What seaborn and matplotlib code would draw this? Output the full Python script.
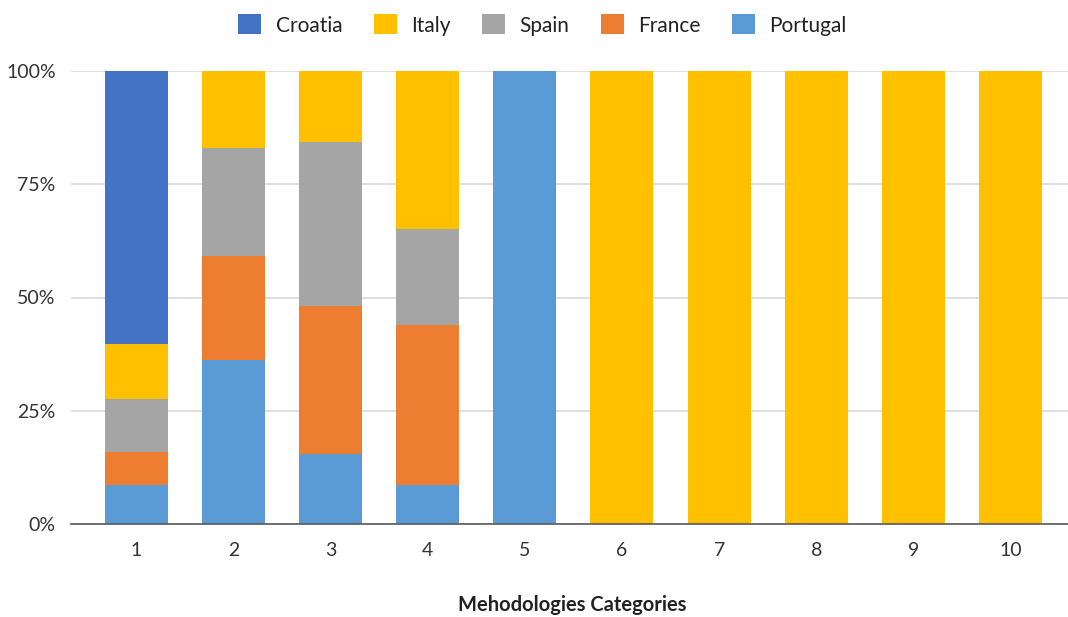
import matplotlib
matplotlib.use("Agg")
import matplotlib.pyplot as plt
from matplotlib.patches import Patch
from matplotlib.ticker import PercentFormatter
import numpy as np
import pandas as pd
import seaborn as sns

# Share of each country per methodology category (percent)
categories = ["1", "2", "3", "4", "5", "6", "7", "8", "9", "10"]
portugal = [8.5, 36.3, 15.4, 8.5, 100, 0, 0, 0, 0, 0]
france = [7.3, 22.9, 32.7, 35.4, 0, 0, 0, 0, 0, 0]
spain = [11.9, 23.9, 36.3, 21.2, 0, 0, 0, 0, 0, 0]
italy = [12.0, 16.9, 15.6, 34.9, 0, 100, 100, 100, 100, 100]
croatia = [60.3, 0, 0, 0, 0, 0, 0, 0, 0, 0]

# stacking order from the bottom up
stack_order = ["Portugal", "France", "Spain", "Italy", "Croatia"]
series = {"Portugal": portugal, "France": france, "Spain": spain,
          "Italy": italy, "Croatia": croatia}
colors = {"Croatia": "#4472C4", "Italy": "#FFC000", "Spain": "#A5A5A5",
          "France": "#ED7D31", "Portugal": "#5B9BD5"}
legend_order = ["Croatia", "Italy", "Spain", "France", "Portugal"]

df = pd.DataFrame(series, index=categories)
cum = df[stack_order].cumsum(axis=1)

sns.set_theme(style="white")
plt.rcParams["font.family"] = ["Lato", "DejaVu Sans"]

fig = plt.figure(figsize=(10.68, 6.17), dpi=100)
ax = fig.add_axes([71 / 1068, 93 / 617, 1 - 71 / 1068, (524 - 71) / 617])

# draw the tallest cumulative bars first so lower segments sit on top
for name in reversed(stack_order):
    plot_df = pd.DataFrame({"cat": categories, "val": cum[name].values})
    sns.barplot(data=plot_df, x="cat", y="val", color=colors[name],
                width=0.648, saturation=1, linewidth=0, ax=ax, zorder=3,
                order=categories)

ax.set_ylim(0, 100)
ax.set_xlim(-0.67, 9.59)
ax.set_yticks([0, 25, 50, 75, 100])
ax.yaxis.set_major_formatter(PercentFormatter(decimals=0))
ax.grid(axis="y", color="#D9D9D9", linewidth=1.2, zorder=0)
ax.grid(axis="x", visible=False)
for side in ["top", "right", "left"]:
    ax.spines[side].set_visible(False)
ax.spines["bottom"].set_color("#595959")
ax.spines["bottom"].set_linewidth(1.2)
ax.spines["bottom"].set_zorder(4)
ax.tick_params(axis="both", length=0, labelsize=14, labelcolor="#333333")
ax.tick_params(axis="x", pad=13)
ax.tick_params(axis="y", pad=11)
ax.set_ylabel("")
ax.set_xlabel("")

fig.text(572 / 1068, 1 - 605 / 617, "Mehodologies Categories", fontsize=14.5,
         fontweight="bold", color="#222222", ha="center", va="center")

handles = [Patch(facecolor=colors[n], edgecolor="none", label=n) for n in legend_order]
fig.legend(handles=handles, loc="center", bbox_to_anchor=(0.508, 1 - 25 / 617), ncol=5,
           frameon=False, fontsize=15, handlelength=1.1, handleheight=1.1,
           handletextpad=0.7, columnspacing=1.5, labelcolor="#222222")

fig.savefig("out.png", dpi=100)
